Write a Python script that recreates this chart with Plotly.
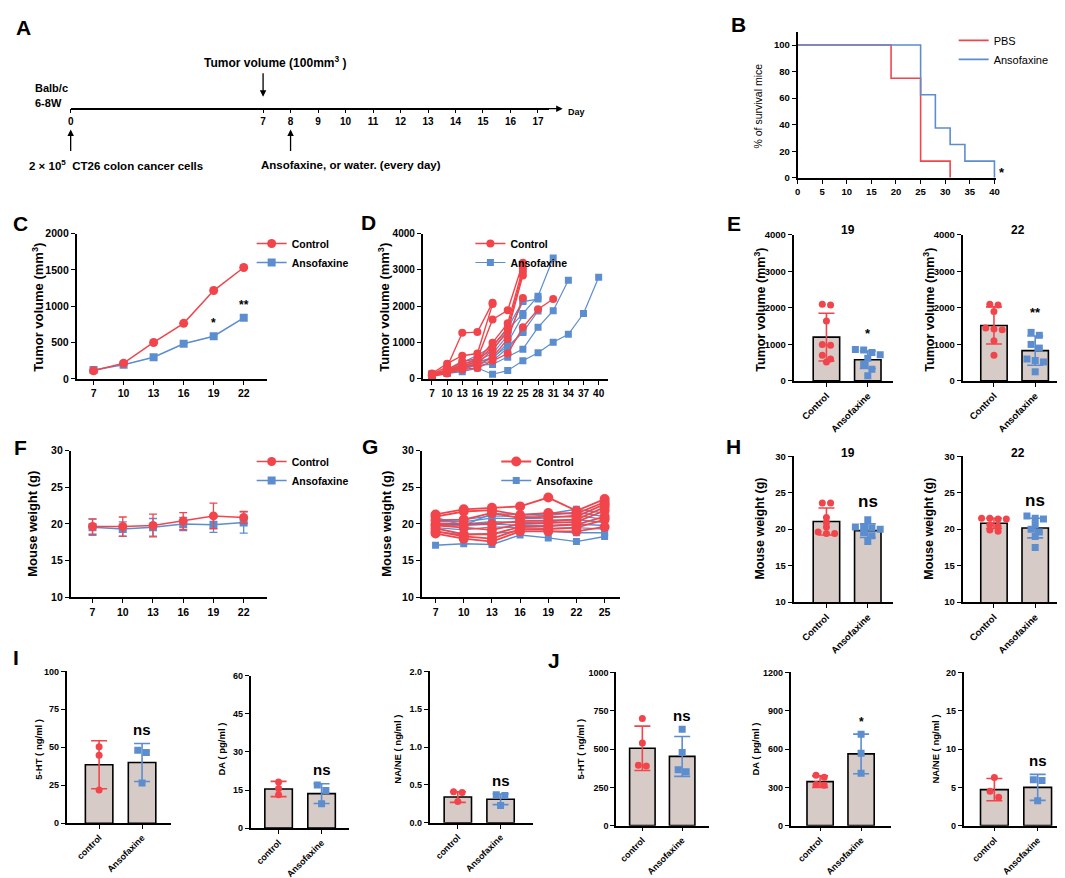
import plotly.graph_objects as go

W, H = 1065, 878
FONT = "Liberation Sans, Arial, sans-serif"
RED = "#f2454b"
BLUE = "#5b8dcf"
BAR_FILL = "#d6cbc6"

# %% data
# A: experiment timeline (days)
timeline_days = [0, 7, 8, 9, 10, 11, 12, 13, 14, 15, 16, 17]
day_inoculation = 0
day_tumor_100 = 7
day_treatment = 8

# B: survival
surv_days_pbs = [0, 19, 25, 31]
surv_pbs = [100, 75, 12.5, 0]
surv_days_ans = [0, 25, 28, 31, 34, 40]
surv_ans = [100, 62.5, 37.5, 25, 12.5, 0]

# C: mean tumor volume
days_c = [7, 10, 13, 16, 19, 22]
vol_control = [113, 217, 502, 765, 1217, 1534]
vol_ansofaxine = [122, 195, 299, 484, 588, 842]
vol_sig = ["", "", "", "", "*", "**"]

# D: tumor volume of each mouse
days_d = [7, 10, 13, 16, 19, 22, 25, 28, 31, 34, 37, 40]
mice_vol_control = [
    [130, 330, 1270, 1290, 2100],
    [150, 420, 640, 700, 2060],
    [110, 260, 480, 560, 1640, 1890, 3200],
    [100, 230, 400, 520, 1000, 1530, 3050],
    [90, 200, 350, 480, 900, 1400, 2950],
    [80, 180, 300, 420, 800, 1300, 2850],
    [100, 250, 330, 380, 600, 1100, 2230],
    [70, 150, 260, 300, 500, 700, 1420, 1920, 2200],
]
mice_vol_ansofaxine = [
    [100, 160, 200, 300, 130, 230, 500, 720, 1010, 1230, 1800, 2800],
    [110, 170, 280, 380, 400, 600, 820, 1420, 1880, 2720],
    [130, 230, 400, 560, 800, 1350, 1800, 2280, 3330],
    [120, 200, 350, 500, 700, 1200, 2130, 2200],
    [90, 180, 300, 450, 600, 900, 1280, 1870],
    [140, 250, 450, 650, 900, 1400, 2150],
    [100, 190, 330, 480, 550, 1000, 1750],
    [80, 150, 250, 400, 500, 850, 1300],
]

# E: tumor volume on day 19 and 22
groups_cap = ["Control", "Ansofaxine"]
e19_mean = [1200, 580]
e19_sd = [655, 240]
e19_control = [2100, 2080, 1640, 1000, 980, 700, 600, 520]
e19_ansofaxine = [860, 850, 780, 720, 620, 450, 320, 140]
e22_mean = [1520, 830]
e22_sd = [510, 400]
e22_control = [2100, 2080, 1900, 1450, 1420, 1400, 1100, 700]
e22_ansofaxine = [1330, 1250, 1000, 900, 600, 560, 520, 250]

# F: mean body weight
days_f = [7, 10, 13, 16, 19, 22]
wt_control = [19.65, 19.65, 19.8, 20.4, 21.1, 20.9]
wt_control_sd = [1.05, 1.3, 1.55, 1.15, 1.75, 0.8]
wt_ansofaxine = [19.55, 19.3, 19.55, 20.0, 19.9, 20.2]
wt_ansofaxine_sd = [1.1, 1.0, 1.2, 0.9, 1.05, 1.45]

# G: body weight of each mouse
days_g = [7, 10, 13, 16, 19, 22, 25]
mice_wt_control = [
    [21.3, 22.0, 22.2, 22.4, 23.6, 21.8, 23.4],
    [21.0, 21.7, 21.9, 21.2, 21.5, 21.4, 23.0],
    [20.5, 20.6, 21.5, 20.8, 21.0, 21.0, 22.7],
    [20.0, 20.0, 20.0, 20.4, 20.5, 20.6, 22.3],
    [19.8, 19.5, 19.2, 20.0, 20.2, 20.3, 21.8],
    [19.4, 18.6, 18.6, 19.6, 19.7, 19.9, 21.0],
    [19.0, 18.3, 18.0, 19.3, 19.3, 19.5, 20.6],
    [18.7, 18.0, 17.6, 19.0, 19.0, 19.0, 19.6],
]
mice_wt_ansofaxine = [
    [17.1, 17.3, 17.2, 18.5, 18.1, 17.6, 18.3],
    [19.0, 18.5, 18.7, 19.0, 19.0, 18.8, 18.8],
    [19.5, 19.2, 19.6, 19.5, 19.4, 19.5, 19.3],
    [19.8, 19.8, 20.0, 19.8, 19.8, 20.0, 19.8],
    [20.0, 20.0, 20.3, 20.2, 20.3, 20.6, 20.2],
    [20.3, 20.3, 20.8, 20.7, 20.8, 21.2, 20.6],
    [20.5, 20.6, 21.1, 21.0, 21.2, 21.6, 21.0],
    [20.9, 19.8, 21.4, 21.3, 21.4, 22.0, 21.5],
]

# H: body weight on day 19 and 22
h19_mean = [21.05, 19.8]
h19_sd = [1.85, 0.95]
h19_control = [23.6, 23.6, 21.6, 20.9, 20.3, 19.6, 19.4, 19.4]
h19_ansofaxine = [21.3, 20.3, 20.3, 20.2, 20.0, 19.5, 19.1, 18.3]
h22_mean = [20.8, 20.15]
h22_sd = [0.7, 1.35]
h22_control = [21.5, 21.5, 21.4, 21.4, 20.6, 20.4, 19.9, 19.7]
h22_ansofaxine = [21.8, 21.5, 21.4, 20.6, 20.0, 19.6, 19.0, 17.5]

# I / J: neurotransmitters
groups_low = ["control", "Ansofaxine"]
i_5ht_mean = [38.5, 40.0]
i_5ht_sd = [15.8, 12.5]
i_5ht_control = [50.3, 44.8, 21.8]
i_5ht_ansofaxine = [46.6, 48.1, 26.4]
i_da_mean = [15.4, 13.6]
i_da_sd = [3.0, 3.9]
i_da_control = [18.2, 15.6, 13.1]
i_da_ansofaxine = [17.0, 14.8, 9.6]
i_ne_mean = [0.34, 0.31]
i_ne_sd = [0.07, 0.07]
i_ne_control = [0.41, 0.40, 0.28]
i_ne_ansofaxine = [0.37, 0.36, 0.23]

j_5ht_mean = [505, 452]
j_5ht_sd = [145, 130]
j_5ht_control = [700, 540, 390, 395]
j_5ht_ansofaxine = [630, 478, 352, 365]
j_da_mean = [345, 562]
j_da_sd = [45, 155]
j_da_control = [395, 380, 316, 322]
j_da_ansofaxine = [717, 567, 411]
j_ne_mean = [4.7, 5.0]
j_ne_sd = [1.45, 1.7]
j_ne_control = [6.3, 4.5, 3.7]
j_ne_ansofaxine = [5.9, 6.0, 3.25]

# %% helpers
def tfont(size):
    return dict(family=FONT, size=size, color="black", weight="bold")


BASE = dict(
    showline=True, linecolor="black", linewidth=1.6, mirror=False,
    ticks="outside", ticklen=4, tickwidth=1.4, tickcolor="black",
    showgrid=False, zeroline=False, fixedrange=True, tickfont=tfont(10.5),
)

fig = go.Figure()
axes = {}
ann = []


def make_axes(n, xpx, ypx, xr, yr, xextra=None, yextra=None):
    s = "" if n == 1 else str(n)
    xa = dict(BASE, domain=[xpx[0] / W, xpx[1] / W], range=xr, anchor="y" + s)
    ya = dict(BASE, domain=[1 - ypx[1] / H, 1 - ypx[0] / H], range=yr, anchor="x" + s)
    if xextra:
        xa.update(xextra)
    if yextra:
        ya.update(yextra)
    axes["xaxis" + s] = xa
    axes["yaxis" + s] = ya
    return "x" + s, "y" + s


def text(t, x, y, size=10, bold=True, angle=0, xanchor="center"):
    ann.append(dict(
        text=t, x=x / W, y=1 - y / H, xref="paper", yref="paper",
        showarrow=False, textangle=angle, xanchor=xanchor, yanchor="middle",
        font=dict(family=FONT, size=size, color="black",
                  weight="bold" if bold else "normal"),
    ))


def jitter(vals, center, thr, step=0.2):
    order = sorted(range(len(vals)), key=lambda k: -vals[k])
    rows = []
    for k in order:
        if rows and abs(vals[rows[-1][0]] - vals[k]) < thr:
            rows[-1].append(k)
        else:
            rows.append([k])
    xs = [center] * len(vals)
    for row in rows:
        m = len(row)
        for j, k in enumerate(row):
            xs[k] = center + (j - (m - 1) / 2) * step
    return xs


def bar_panel(n, xpx, ypx, xr, yr, yticks, labels, means, sds, pts_c, pts_a,
              thr, sig="", sig_size=15, sig_shift=14, fs=9.5):
    xa, ya = make_axes(
        n, xpx, ypx, xr, yr,
        xextra=dict(tickvals=[0, 1], ticktext=labels, tickangle=-45, tickfont=tfont(fs)),
        yextra=dict(tickvals=yticks, tickfont=tfont(fs)),
    )
    fig.add_trace(go.Bar(
        x=[0, 1], y=means, width=0.64, showlegend=False, hoverinfo="skip",
        marker=dict(color=BAR_FILL, line=dict(color="black", width=1.6)),
        xaxis=xa, yaxis=ya))
    for i, (pts, col, sym) in enumerate([(pts_c, RED, "circle"), (pts_a, BLUE, "square")]):
        fig.add_trace(go.Scatter(
            x=[i], y=[means[i]], mode="markers", showlegend=False, hoverinfo="skip",
            marker=dict(size=1, color="rgba(0,0,0,0)"),
            error_y=dict(type="data", array=[sds[i]], color=col, thickness=1.6, width=8),
            xaxis=xa, yaxis=ya))
        fig.add_trace(go.Scatter(
            x=jitter(pts, i, thr), y=pts, mode="markers", showlegend=False,
            marker=dict(color=col, size=7, symbol=sym), xaxis=xa, yaxis=ya))
    if sig:
        top = max(max(pts_a), means[1] + sds[1])
        ann.append(dict(
            text=sig, x=1, y=top, xref=xa, yref=ya, yshift=sig_shift,
            showarrow=False, yanchor="middle", font=tfont(sig_size)))
    return xa, ya


# %% A timeline
xa, ya = make_axes(
    1, (60, 541), (40, 160), [0, 17.4], [-64, 56],
    xextra=dict(anchor="free", position=1 - 96 / H, tickvals=timeline_days,
                tickfont=tfont(10)),
    yextra=dict(visible=False),
)
fig.add_trace(go.Scatter(x=timeline_days, y=[0] * len(timeline_days), mode="markers",
                         marker=dict(size=1, color="rgba(0,0,0,0)"), showlegend=False,
                         hoverinfo="skip", xaxis=xa, yaxis=ya))
arrow = dict(text="", showarrow=True, arrowhead=2, arrowsize=1, arrowwidth=1.3,
             arrowcolor="black", xref=xa, yref=ya)
ann.append(dict(arrow, x=17.9, y=0, ax=17.2, ay=0, axref=xa, ayref=ya))
ann.append(dict(arrow, x=day_tumor_100, y=12, ax=0, ay=-25))
ann.append(dict(arrow, x=day_inoculation, y=-21, ax=0, ay=23))
ann.append(dict(arrow, x=day_treatment, y=-21, ax=0, ay=23))
text("Day", 558, 99, size=9, xanchor="left")
text("Tumor volume (100mm<sup>3</sup> )", 266, 49, size=12)
text("Balb/c", 22, 75, size=11, xanchor="left")
text("6-8W", 22, 90, size=11, xanchor="left")
text("2 × 10<sup>5</sup>  CT26 colon cancer cells", 16, 153, size=11.5, xanchor="left")
text("Ansofaxine, or water. (every day)", 249, 153, size=11.5, xanchor="left")

# %% B survival
xa, ya = make_axes(2, (791, 991), (18, 166), [0, 40.4], [0, 110],
                   xextra=dict(tickvals=list(range(0, 45, 5)), tickfont=tfont(9.5)),
                   yextra=dict(tickvals=[0, 20, 40, 60, 80, 100], tickfont=tfont(9.5)))
fig.add_trace(go.Scatter(x=surv_days_pbs, y=surv_pbs, mode="lines", line_shape="hv",
                         line=dict(color=RED, width=1.6), name="PBS",
                         legend="legend", xaxis=xa, yaxis=ya))
fig.add_trace(go.Scatter(x=surv_days_ans, y=surv_ans, mode="lines", line_shape="hv",
                         line=dict(color=BLUE, width=1.6), name="Ansofaxine",
                         legend="legend", xaxis=xa, yaxis=ya))
text("% of survival mice", 751, 93, size=10.5, bold=False, angle=-90)
text("*", 997, 161, size=13)

# %% C mean tumor volume
xa, ya = make_axes(3, (66, 257), (222.7, 370), [5.31, 24.28], [0, 2000],
                   xextra=dict(tickvals=days_c), yextra=dict(dtick=500))
fig.add_trace(go.Scatter(x=days_c, y=vol_ansofaxine, mode="lines+markers", name="Ansofaxine",
                         line=dict(color=BLUE, width=1.5),
                         marker=dict(symbol="square", size=8, color=BLUE),
                         legend="legend2", legendrank=2, xaxis=xa, yaxis=ya))
fig.add_trace(go.Scatter(x=days_c, y=vol_control, mode="lines+markers", name="Control",
                         line=dict(color=RED, width=1.5),
                         marker=dict(symbol="circle", size=9, color=RED),
                         legend="legend2", legendrank=1, xaxis=xa, yaxis=ya))
for d, v, s in zip(days_c, vol_ansofaxine, vol_sig):
    if s:
        ann.append(dict(text=s, x=d, y=v, xref=xa, yref=ya, yshift=13, showarrow=False,
                        font=tfont(12)))
text("Tumor volume (mm<sup>3</sup>)", 27, 297, size=13, angle=-90)

# %% D individual tumor volume
xa, ya = make_axes(4, (414, 600), (222.7, 370), [5.17, 41.77], [0, 4000],
                   xextra=dict(tickvals=days_d, tickfont=tfont(10)),
                   yextra=dict(dtick=1000, tickfont=tfont(10)))
for k, vals in enumerate(mice_vol_ansofaxine):
    fig.add_trace(go.Scatter(x=days_d[:len(vals)], y=vals, mode="lines+markers",
                             name="Ansofaxine", showlegend=(k == 0),
                             line=dict(color=BLUE, width=1.2),
                             marker=dict(symbol="square", size=7, color=BLUE),
                             legend="legend3", legendrank=2, xaxis=xa, yaxis=ya))
for k, vals in enumerate(mice_vol_control):
    fig.add_trace(go.Scatter(x=days_d[:len(vals)], y=vals, mode="lines+markers",
                             name="Control", showlegend=(k == 0),
                             line=dict(color=RED, width=1.4),
                             marker=dict(symbol="circle", size=8, color=RED),
                             legend="legend3", legendrank=1, xaxis=xa, yaxis=ya))
text("Tumor volume (mm<sup>3</sup>)", 375, 297, size=13, angle=-90)

# %% E tumor volume bars
bar_panel(5, (787, 887), (224, 372), [-0.795, 1.61], [0, 4000], [0, 1000, 2000, 3000, 4000],
          groups_cap, e19_mean, e19_sd, e19_control, e19_ansofaxine, 150,
          sig="*", sig_size=13, sig_shift=16)
bar_panel(6, (957, 1058), (224, 372), [-0.76, 1.675], [0, 4000], [0, 1000, 2000, 3000, 4000],
          groups_cap, e22_mean, e22_sd, e22_control, e22_ansofaxine, 150,
          sig="**", sig_size=13, sig_shift=20)
text("19", 842, 219, size=12)
text("22", 1013, 219, size=12)
text("Tumor volume (mm<sup>3</sup>)", 753, 300, size=12.5, angle=-90)
text("Tumor volume (mm<sup>3</sup>)", 923, 300, size=12.5, angle=-90)

# %% F mean body weight
xa, ya = make_axes(7, (60, 257), (442.7, 591.4), [4.83, 24.27], [10, 30],
                   xextra=dict(tickvals=days_f), yextra=dict(dtick=5))
fig.add_trace(go.Scatter(x=days_f, y=wt_ansofaxine, mode="lines+markers", name="Ansofaxine",
                         line=dict(color=BLUE, width=1.5),
                         marker=dict(symbol="square", size=8, color=BLUE),
                         error_y=dict(type="data", array=wt_ansofaxine_sd, color=BLUE,
                                      thickness=1.3, width=4),
                         legend="legend4", legendrank=2, xaxis=xa, yaxis=ya))
fig.add_trace(go.Scatter(x=days_f, y=wt_control, mode="lines+markers", name="Control",
                         line=dict(color=RED, width=1.5),
                         marker=dict(symbol="circle", size=9, color=RED),
                         error_y=dict(type="data", array=wt_control_sd, color=RED,
                                      thickness=1.3, width=4),
                         legend="legend4", legendrank=1, xaxis=xa, yaxis=ya))
text("Mouse weight (g)", 22, 517, size=13, angle=-90)

# %% G individual body weight
xa, ya = make_axes(8, (413, 612), (442.7, 591.4), [5.52, 26.59], [10, 30],
                   xextra=dict(tickvals=days_g), yextra=dict(dtick=5))
for k, vals in enumerate(mice_wt_ansofaxine):
    fig.add_trace(go.Scatter(x=days_g, y=vals, mode="lines+markers", name="Ansofaxine",
                             showlegend=(k == 0), line=dict(color=BLUE, width=1.4),
                             marker=dict(symbol="square", size=7, color=BLUE),
                             legend="legend5", legendrank=2, xaxis=xa, yaxis=ya))
for k, vals in enumerate(mice_wt_control):
    fig.add_trace(go.Scatter(x=days_g, y=vals, mode="lines+markers", name="Control",
                             showlegend=(k == 0), line=dict(color=RED, width=1.8),
                             marker=dict(symbol="circle", size=10, color=RED),
                             legend="legend5", legendrank=1, xaxis=xa, yaxis=ya))
text("Mouse weight (g)", 378, 517, size=13, angle=-90)

# %% H body weight bars
bar_panel(9, (787, 887), (448.3, 596.3), [-0.795, 1.61], [10, 30], [10, 15, 20, 25, 30],
          groups_cap, h19_mean, h19_sd, h19_control, h19_ansofaxine, 0.45,
          sig="ns", sig_size=17, sig_shift=18)
bar_panel(10, (957, 1058), (448.3, 596.3), [-0.76, 1.675], [10, 30], [10, 15, 20, 25, 30],
          groups_cap, h22_mean, h22_sd, h22_control, h22_ansofaxine, 0.45,
          sig="ns", sig_size=17, sig_shift=16)
text("19", 842, 445, size=12)
text("22", 1013, 445, size=12)
text("Mouse weight (g)", 753, 522, size=12.5, angle=-90)
text("Mouse weight (g)", 923, 522, size=12.5, angle=-90)

# %% I and J
bar_panel(11, (56, 161), (666.5, 820.4), [-0.755, 1.676], [0, 100], [0, 25, 50, 75, 100],
          groups_low, i_5ht_mean, i_5ht_sd, i_5ht_control, i_5ht_ansofaxine, 4,
          sig="ns", fs=9)
bar_panel(12, (241, 340), (671, 825.4), [-0.65, 1.64], [0, 60], [0, 15, 30, 45, 60],
          groups_low, i_da_mean, i_da_sd, i_da_control, i_da_ansofaxine, 2.4,
          sig="ns", fs=9)
bar_panel(13, (421, 525), (666.5, 820), [-0.66, 1.76], [0, 2], [0, 0.5, 1.0, 1.5, 2.0],
          groups_low, i_ne_mean, i_ne_sd, i_ne_control, i_ne_ansofaxine, 0.08,
          sig="ns", fs=9)
axes["yaxis13"]["tickformat"] = ".1f"
bar_panel(14, (608.5, 702), (667.6, 822.9), [-0.66, 1.675], [0, 1000], [0, 250, 500, 750, 1000],
          groups_low, j_5ht_mean, j_5ht_sd, j_5ht_control, j_5ht_ansofaxine, 40,
          sig="ns", fs=9)
bar_panel(15, (784, 885), (667.6, 822.9), [-0.72, 1.73], [0, 1200], [0, 300, 600, 900, 1200],
          groups_low, j_da_mean, j_da_sd, j_da_control, j_da_ansofaxine, 48,
          sig="*", sig_size=12, sig_shift=12, fs=9)
bar_panel(16, (958, 1063), (667.6, 822.9), [-0.71, 1.70], [0, 20], [0, 5, 10, 15, 20],
          groups_low, j_ne_mean, j_ne_sd, j_ne_control, j_ne_ansofaxine, 0.8,
          sig="ns", fs=9)
for x, t in [(28, "5-HT ( ng/ml )"), (212, "DA ( pg/ml )"), (389, "NA/NE ( ng/ml )"),
             (573, "5-HT ( ng/ml )"), (749, "DA ( pg/ml )"), (930, "NA/NE ( ng/ml )")]:
    text(t, x, 745, size=9.5, angle=-90)

# %% panel letters
for t, x, y in [("A", 13, 14), ("B", 732, 11), ("C", 10, 212), ("D", 360, 211),
                ("E", 727, 212), ("F", 10, 439), ("G", 361, 438), ("H", 727, 438),
                ("I", 5, 652), ("J", 546, 655)]:
    text(t, x, y, size=21)

legend_style = dict(bgcolor="rgba(0,0,0,0)", borderwidth=0, itemwidth=30,
                    xanchor="left", yanchor="top", tracegroupgap=0, font=tfont(10.5))
fig.update_layout(
    width=W, height=H, margin=dict(l=0, r=0, t=0, b=0),
    paper_bgcolor="white", plot_bgcolor="white",
    hovermode=False, showlegend=True,
    annotations=ann,
    legend=dict(legend_style, x=948 / W, y=1 - 12 / H,
                font=dict(family=FONT, size=11, color="black")),
    legend2=dict(legend_style, x=242 / W, y=1 - 218 / H),
    legend3=dict(legend_style, x=462 / W, y=1 - 218 / H),
    legend4=dict(legend_style, x=242 / W, y=1 - 439 / H),
    legend5=dict(legend_style, x=488 / W, y=1 - 439 / H),
    **axes,
)

fig.write_html("out.html")
